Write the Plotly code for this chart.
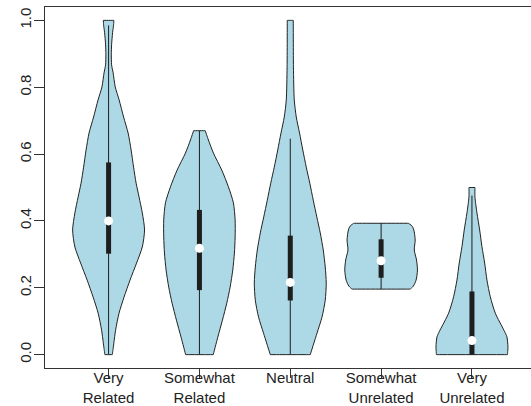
import plotly.graph_objects as go

# Category labels (two-line tick labels on the x axis)
categories = ["Very Related", "Somewhat Related", "Neutral", "Somewhat Unrelated", "Very Unrelated"]
tick_labels = ["Very<br>Related", "Somewhat<br>Related", "Neutral", "Somewhat<br>Unrelated", "Very<br>Unrelated"]
y_ticks = [0.0, 0.2, 0.4, 0.6, 0.8, 1.0]

# Violin outlines: density levels (y) and half-widths (x units) per category
vr_y = [0.0, 0.022, 0.073, 0.124, 0.172, 0.223, 0.274, 0.322, 0.373, 0.424, 0.472, 0.513, 0.561,
        0.612, 0.663, 0.711, 0.762, 0.801, 0.843, 0.867, 0.897, 0.927, 0.963, 0.987, 1.0]
vr_w = [0.041, 0.052, 0.077, 0.115, 0.170, 0.236, 0.308, 0.371, 0.396, 0.371, 0.335, 0.303, 0.275,
        0.248, 0.215, 0.165, 0.116, 0.073, 0.050, 0.033, 0.030, 0.033, 0.044, 0.055, 0.058]

sr_y = [0.0, 0.052, 0.103, 0.154, 0.202, 0.253, 0.304, 0.352, 0.403, 0.454, 0.502, 0.552, 0.603, 0.642, 0.670]
sr_w = [0.152, 0.202, 0.253, 0.301, 0.338, 0.367, 0.385, 0.393, 0.393, 0.374, 0.319, 0.246, 0.154, 0.099, 0.064]

ne_y = [0.0, 0.064, 0.112, 0.163, 0.214, 0.262, 0.313, 0.364, 0.412, 0.462, 0.513, 0.561, 0.612,
        0.663, 0.711, 0.762, 0.861, 1.0]
ne_w = [0.220, 0.294, 0.349, 0.385, 0.396, 0.385, 0.363, 0.330, 0.292, 0.253, 0.215, 0.176, 0.138,
        0.102, 0.066, 0.044, 0.035, 0.033]

su_y = [0.196, 0.205, 0.223, 0.253, 0.283, 0.313, 0.343, 0.373, 0.385, 0.393]
su_w = [0.320, 0.355, 0.385, 0.400, 0.390, 0.365, 0.375, 0.360, 0.340, 0.300]

vu_y = [0.0, 0.023, 0.053, 0.073, 0.124, 0.173, 0.223, 0.274, 0.323, 0.373, 0.424, 0.472, 0.500]
vu_w = [0.391, 0.396, 0.385, 0.352, 0.257, 0.202, 0.165, 0.140, 0.110, 0.085, 0.055, 0.033, 0.033]

# Box-plot summaries: lower whisker, Q1, median, Q3, upper whisker
whisker_lo = [0.0, 0.0, 0.0, 0.196, 0.0]
q1 = [0.302, 0.193, 0.162, 0.230, 0.0]
median = [0.400, 0.318, 0.216, 0.281, 0.042]
q3 = [0.575, 0.433, 0.356, 0.345, 0.189]
whisker_hi = [0.985, 0.670, 0.646, 0.393, 0.476]

profiles = [(vr_y, vr_w), (sr_y, sr_w), (ne_y, ne_w), (su_y, su_w), (vu_y, vu_w)]

FILL = "#ADD8E6"
INK = "#1e1e1e"
FONT = "Liberation Sans, Arial, Helvetica, sans-serif"


def outline(pos, ys, ws):
    """Closed violin outline; corner points are doubled so the spline keeps them sharp."""
    right = [(pos + w, y) for y, w in zip(ys, ws)]
    left = [(pos - w, y) for y, w in zip(reversed(ys), reversed(ws))]
    pts = [right[0]] + right + [right[-1]] + [left[0]] + left + [left[-1], right[0], right[0]]
    return [p[0] for p in pts], [p[1] for p in pts]


fig = go.Figure()

for i, (ys, ws) in enumerate(profiles):
    pos = i + 1
    xs, yy = outline(pos, ys, ws)
    fig.add_trace(go.Scatter(x=xs, y=yy, mode="lines", fill="toself", fillcolor=FILL,
                             line=dict(color="#222222", width=1, shape="spline", smoothing=0.7),
                             hoverinfo="skip", showlegend=False))
    # whisker
    fig.add_trace(go.Scatter(x=[pos, pos], y=[whisker_lo[i], whisker_hi[i]], mode="lines",
                             line=dict(color=INK, width=1), showlegend=False, hoverinfo="skip"))
    # inter-quartile box
    fig.add_trace(go.Scatter(x=[pos, pos], y=[q1[i], q3[i]], mode="lines",
                             line=dict(color=INK, width=5), showlegend=False, hoverinfo="skip"))
    # median point
    fig.add_trace(go.Scatter(x=[pos], y=[median[i]], mode="markers",
                             marker=dict(color="white", size=9, line=dict(width=0)),
                             showlegend=False, name=categories[i]))

fig.update_layout(
    width=531, height=406,
    margin=dict(l=45, r=0, t=7, b=38, autoexpand=False),
    paper_bgcolor="white", plot_bgcolor="white",
    font=dict(family=FONT, size=15, color="#222222"),
    showlegend=False,
)
fig.update_xaxes(
    range=[0.3, 5.65], tickmode="array", tickvals=[1, 2, 3, 4, 5], ticktext=tick_labels,
    ticks="outside", ticklen=9, tickwidth=1, tickcolor="#333333",
    showline=True, linecolor="#333333", linewidth=1, mirror=True,
    showgrid=False, zeroline=False, ticklabelstandoff=-13, automargin=False,
    tickfont=dict(family=FONT, size=15, color="#222222"),
)
fig.update_yaxes(
    range=[-0.04, 1.04], tickmode="array", tickvals=y_ticks,
    ticktext=[f"{v:.1f}" for v in y_ticks], tickangle=-90,
    ticks="outside", ticklen=10, tickwidth=1, tickcolor="#333333",
    showline=True, linecolor="#333333", linewidth=1, mirror=False,
    showgrid=False, zeroline=False, ticklabelstandoff=-3, automargin=False,
    tickfont=dict(family=FONT, size=15, color="#222222"),
)

fig.write_html("out.html")
